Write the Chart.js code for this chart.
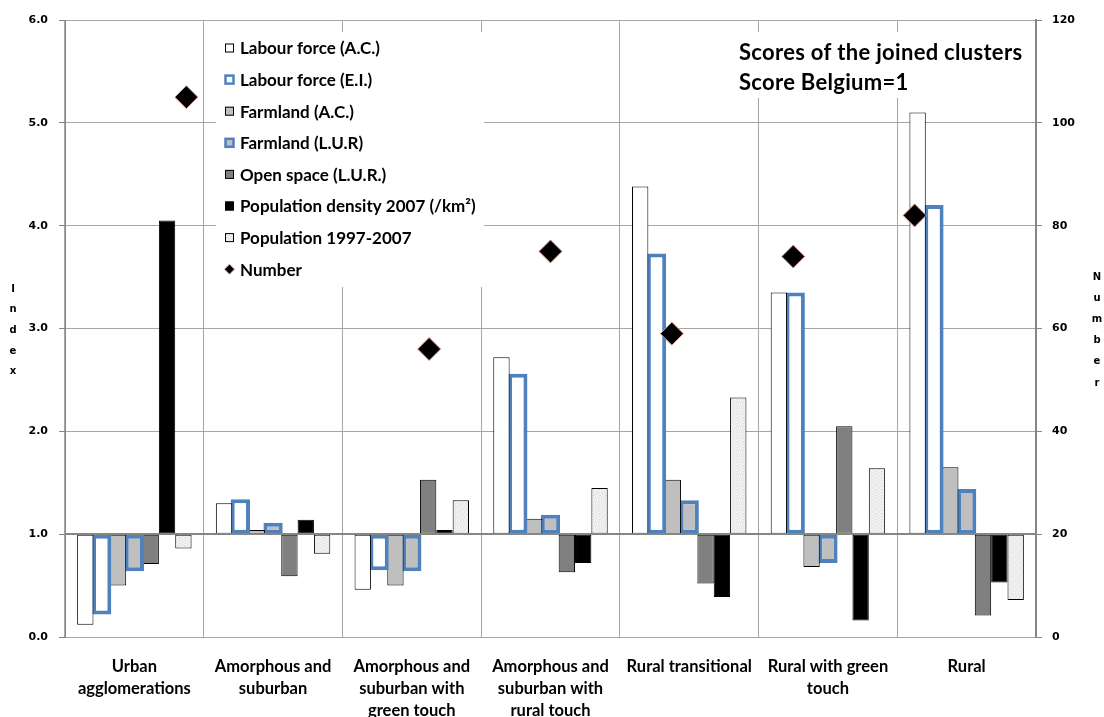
<!DOCTYPE html>
<html>
<head>
<meta charset="utf-8">
<script src="https://cdn.jsdelivr.net/npm/chart.js@4.4.1/dist/chart.umd.min.js"></script>
<style>
  html, body { margin: 0; padding: 0; background: #fff; }
  #wrap { position: relative; width: 1104px; height: 717px; }
  #wrap canvas { position: absolute; left: 0; top: 0; }
  #numbers { pointer-events: none; }
</style>
</head>
<body>
<div id="wrap">
  <canvas id="scores" width="1104" height="717"></canvas>
  <canvas id="numbers" width="1104" height="717"></canvas>
</div>
<script>
// Cluster names (multi-line where the label wraps)
const categories = [
  ['Urban', 'agglomerations'],
  ['Amorphous and', 'suburban'],
  ['Amorphous and', 'suburban with', 'green touch'],
  ['Amorphous and', 'suburban with', 'rural touch'],
  'Rural transitional',
  ['Rural with green', 'touch'],
  'Rural'
];

// Index scores per cluster (Belgium = 1)
const labourAC   = [0.12, 1.30, 0.46, 2.72, 4.38, 3.35, 5.10];
const labourEI   = [0.22, 1.34, 0.65, 2.56, 3.73, 3.35, 4.20];
const farmAC     = [0.50, 1.04, 0.50, 1.15, 1.53, 0.68, 1.65];
const farmLUR    = [0.64, 1.11, 0.64, 1.19, 1.33, 0.72, 1.44];
const openSpace  = [0.71, 0.59, 1.53, 0.63, 0.52, 2.05, 0.21];
const popDensity = [4.05, 1.14, 1.04, 0.72, 0.39, 0.16, 0.53];
const pop9707    = [0.86, 0.81, 1.33, 1.45, 2.33, 1.64, 0.36];

// Number of municipalities per cluster, on its own category axis with an empty slot at each end
const numberSlots  = ['', 'Urban agglomerations', 'Amorphous and suburban',
  'Amorphous and suburban with green touch', 'Amorphous and suburban with rural touch',
  'Rural transitional', 'Rural with green touch', 'Rural', ''];
const numberValues = [null, 105, null, 56, 75, 59, 74, 82, null];

// Axis ranges
const indexTicks  = { min: 0, max: 6, step: 1 };
const numberTicks = { min: 0, max: 120, step: 20 };

const titleLines = ['Scores of the joined clusters', 'Score Belgium=1'];
const leftTitle  = 'Index';
const rightTitle = 'Number';

const BLUE = '#4f81bd';
const AXIS_GREY = '#868686';
const GRID_GREY = '#a6a6a6';
const tickFont = { family: 'DejaVu Sans', size: 11, weight: 'bold' };
const textFont = 'Lato';

// plot frame shared by both canvases
const FRAME = { left: 65, right: 68, top: 20, bottom: 80 };

// light mottled fill for the population change bars
function speckle() {
  const cv = document.createElement('canvas');
  cv.width = 6; cv.height = 6;
  const g = cv.getContext('2d');
  const shades = ['#f3f3f3', '#e7e7e7', '#eeeeee', '#dfdfdf', '#f7f7f7', '#e9e9e9'];
  const map = [0,1,2,0,3,2, 2,4,1,5,0,1, 5,0,3,2,4,0, 1,2,0,4,1,3, 4,5,2,1,0,2, 0,3,4,2,5,1];
  for (let i = 0; i < 36; i++) {
    g.fillStyle = shades[map[i]];
    g.fillRect(i % 6, Math.floor(i / 6), 1, 1);
  }
  return g.createPattern(cv, 'repeat');
}

const barBase = { type: 'bar', base: 1, borderSkipped: false };

const barSets = [
  Object.assign({}, barBase, { label: 'Labour force (A.C.)', data: labourAC,
    backgroundColor: '#ffffff', borderColor: '#000000', borderWidth: 1 }),
  Object.assign({}, barBase, { label: 'Labour force (E.I.)', data: labourEI,
    backgroundColor: '#ffffff', borderColor: BLUE, borderWidth: 4, barPercentage: 1.18 }),
  Object.assign({}, barBase, { label: 'Farmland (A.C.)', data: farmAC,
    backgroundColor: '#bfbfbf', borderColor: '#000000', borderWidth: 1 }),
  Object.assign({}, barBase, { label: 'Farmland (L.U.R)', data: farmLUR,
    backgroundColor: '#bfbfbf', borderColor: BLUE, borderWidth: 4, barPercentage: 1.18 }),
  Object.assign({}, barBase, { label: 'Open space (L.U.R.)', data: openSpace,
    backgroundColor: '#808080', borderColor: '#000000', borderWidth: 1 }),
  Object.assign({}, barBase, { label: 'Population density 2007 (/km²)', data: popDensity,
    backgroundColor: '#000000', borderColor: '#000000', borderWidth: 1 }),
  Object.assign({}, barBase, { label: 'Population 1997-2007', data: pop9707,
    backgroundColor: speckle(), borderColor: '#000000', borderWidth: 1 })
];

const numberSet = {
  type: 'line', label: 'Number', data: numberValues, xAxisID: 'x2', yAxisID: 'y2',
  showLine: false, pointStyle: 'rectRot', pointRadius: 11.5, pointHoverRadius: 11.5,
  pointBackgroundColor: '#000000', pointBorderColor: '#d99694', pointBorderWidth: 1,
  backgroundColor: '#000000', borderColor: '#d99694'
};

// legend panel, chart title and the stacked axis titles
const decor = {
  id: 'decor',
  afterDatasetsDraw(chart) {
    const ctx = chart.ctx;
    const y = chart.scales.y;
    const area = chart.chartArea;
    ctx.save();
    // horizontal axis crossing at 1.0
    const y1 = Math.round(y.getPixelForValue(1));
    ctx.strokeStyle = AXIS_GREY;
    ctx.lineWidth = 2;
    ctx.beginPath();
    ctx.moveTo(area.left, y1);
    ctx.lineTo(area.right, y1);
    ctx.stroke();

    // legend panel
    ctx.fillStyle = '#ffffff';
    ctx.fillRect(216, 32, 268, 255);
    ctx.font = 'bold 17px ' + textFont;
    ctx.textBaseline = 'middle';
    ctx.textAlign = 'left';
    const rowTop = 48, rowGap = 31.6;
    const entries = chart.data.datasets.concat([numberSet]);
    entries.forEach((ds, i) => {
      const cy = rowTop + i * rowGap;
      if (ds.type === 'line') {
        ctx.beginPath();
        ctx.moveTo(229.5, cy - 5); ctx.lineTo(234.5, cy); ctx.lineTo(229.5, cy + 5); ctx.lineTo(224.5, cy);
        ctx.closePath();
        ctx.fillStyle = ds.pointBackgroundColor;
        ctx.fill();
        ctx.strokeStyle = ds.pointBorderColor;
        ctx.lineWidth = 1;
        ctx.stroke();
      } else {
        ctx.fillStyle = ds.backgroundColor;
        ctx.fillRect(225, cy - 4.5, 9, 9);
        ctx.strokeStyle = ds.borderColor;
        ctx.lineWidth = ds.borderWidth > 1 ? 2.5 : 1;
        ctx.strokeRect(225.5, cy - 4, 8, 8);
      }
      ctx.fillStyle = '#000';
      ctx.fillText(ds.label, 240, cy + 1);
    });

    // title panel
    ctx.fillStyle = '#ffffff';
    ctx.fillRect(726, 32, 308, 66);
    ctx.fillStyle = '#000';
    ctx.font = 'bold 22px ' + textFont;
    ctx.letterSpacing = '0.3px';
    ctx.fillText(titleLines[0], 739, 53);
    ctx.fillText(titleLines[1], 739, 83);
    ctx.letterSpacing = '0px';

    // stacked axis titles
    ctx.font = 'bold 10px DejaVu Sans';
    ctx.textAlign = 'center';
    [...leftTitle].forEach((ch, i) => ctx.fillText(ch, 13, 289 + i * 20.7));
    [...rightTitle].forEach((ch, i) => ctx.fillText(ch, 1097, 277 + i * 21.2));
    ctx.restore();
  }
};

// bars against the index axis
new Chart(document.getElementById('scores'), {
  type: 'bar',
  data: { labels: categories, datasets: barSets },
  options: {
    responsive: false,
    animation: false,
    layout: { padding: { top: FRAME.top, left: 0, right: FRAME.right, bottom: 0 } },
    datasets: { bar: { categoryPercentage: 0.825, barPercentage: 1.0 } },
    plugins: { legend: { display: false }, tooltip: { enabled: false } },
    scales: {
      x: {
        type: 'category', position: 'bottom', offset: true,
        grid: { offset: true, color: GRID_GREY, drawTicks: false },
        border: { color: GRID_GREY },
        ticks: { font: { family: textFont, size: 16.5, weight: 'bold', lineHeight: 1.36 },
          color: '#000', padding: 18, maxRotation: 0, autoSkip: false },
        afterFit(s) { s.height = FRAME.bottom; }
      },
      y: {
        position: 'left', min: indexTicks.min, max: indexTicks.max,
        ticks: { stepSize: indexTicks.step, font: tickFont, color: '#000', padding: 11,
          callback: v => Number(v).toFixed(1) },
        grid: {
          color: c => (c.tick && c.tick.value === 1) ? AXIS_GREY : GRID_GREY,
          tickColor: AXIS_GREY, tickLength: 6
        },
        border: { color: AXIS_GREY },
        afterFit(s) { s.width = FRAME.left; }
      }
    }
  },
  plugins: [decor]
});

// number of municipalities against the right-hand axis, layered over the bars
new Chart(document.getElementById('numbers'), {
  type: 'line',
  data: { labels: numberSlots, datasets: [numberSet] },
  options: {
    responsive: false,
    animation: false,
    events: [],
    layout: { padding: { top: FRAME.top, left: FRAME.left, right: 0, bottom: FRAME.bottom } },
    plugins: { legend: { display: false }, tooltip: { enabled: false } },
    scales: {
      x2: {
        type: 'category', position: 'bottom', labels: numberSlots, offset: false, display: false,
        grid: { display: false }
      },
      y2: {
        position: 'right', min: numberTicks.min, max: numberTicks.max,
        ticks: { stepSize: numberTicks.step, font: tickFont, color: '#000', padding: 10 },
        grid: { drawOnChartArea: false, tickColor: AXIS_GREY, tickLength: 6 },
        border: { color: AXIS_GREY, width: 2 },
        afterFit(s) { s.width = FRAME.right; }
      }
    }
  }
});
</script>
</body>
</html>
